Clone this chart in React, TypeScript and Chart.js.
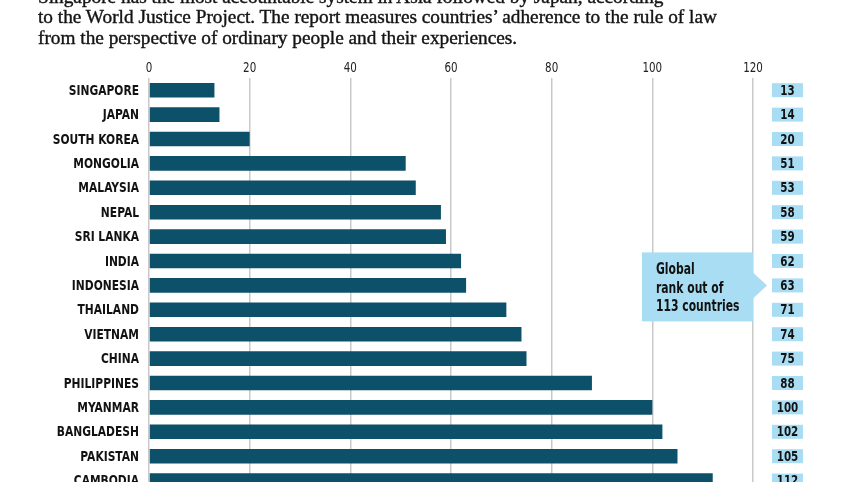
import { useEffect, useRef } from "react";
import { Chart, registerables } from "chart.js";

Chart.register(...registerables);

const headline = [
  "Singapore has the most accountable system in Asia followed by Japan, according",
  "to the World Justice Project. The report measures countries’ adherence to the rule of law",
  "from the perspective of ordinary people and their experiences.",
];

const countries = [
  "SINGAPORE",
  "JAPAN",
  "SOUTH KOREA",
  "MONGOLIA",
  "MALAYSIA",
  "NEPAL",
  "SRI LANKA",
  "INDIA",
  "INDONESIA",
  "THAILAND",
  "VIETNAM",
  "CHINA",
  "PHILIPPINES",
  "MYANMAR",
  "BANGLADESH",
  "PAKISTAN",
  "CAMBODIA",
];

const ranks = [13, 14, 20, 51, 53, 58, 59, 62, 63, 71, 74, 75, 88, 100, 102, 105, 112];

const xMin = 0;
const xMax = 120;
const xStep = 20;

const calloutLines = ["Global", "rank out of", "113 countries"];
const calloutRow = "INDONESIA";

const NARROW = "'Liberation Sans Narrow', 'DejaVu Sans Condensed', 'Arial Narrow', sans-serif";
const BAR = "#0d5069";
const PALE = "#a9ddf3";
const INK = "#121212";

const W = 857;
const H = 500;

// Condensed-looking text: squeeze the glyphs horizontally around the anchor point
function narrowText(
  ctx: CanvasRenderingContext2D,
  text: string,
  x: number,
  y: number,
  align: CanvasTextAlign,
  sx: number
) {
  ctx.save();
  ctx.translate(x, y);
  ctx.scale(sx, 1);
  ctx.textAlign = align;
  ctx.fillText(text, 0, 0);
  ctx.restore();
}

// Axis labels, rank boxes to the right of the plot and the explanatory callout
const annotations = {
  id: "annotations",
  afterDatasetsDraw(chart: any) {
    const { ctx, chartArea, scales } = chart;
    const x = scales.x;
    const y = scales.y;
    ctx.save();

    // value axis labels along the top
    ctx.fillStyle = "#222";
    ctx.font = `14px ${NARROW}`;
    ctx.textBaseline = "alphabetic";
    x.ticks.forEach((t: any) => {
      narrowText(ctx, String(t.value), x.getPixelForValue(t.value), chartArea.top - 6.5, "center", 0.82);
    });

    // country names
    ctx.fillStyle = INK;
    ctx.font = `bold 14px ${NARROW}`;
    ctx.textBaseline = "middle";
    countries.forEach((c, i) => {
      narrowText(ctx, c, chartArea.left - 10, y.getPixelForValue(i) + 1, "right", 0.85);
    });

    // rank boxes
    const bx = chartArea.right + 19;
    const bw = 31;
    const bh = 14;
    ranks.forEach((r, i) => {
      const cy = y.getPixelForValue(i);
      ctx.fillStyle = PALE;
      ctx.fillRect(bx, cy - bh / 2, bw, bh);
      ctx.fillStyle = INK;
      narrowText(ctx, String(r), bx + bw / 2, cy + 1, "center", 0.82);
    });

    // callout pointing at the rank column
    const ay = y.getPixelForValue(countries.indexOf(calloutRow));
    const right = chartArea.right;
    const left = right - 111;
    const top = ay - 33;
    const bottom = ay + 36;
    ctx.fillStyle = PALE;
    ctx.fillRect(left, top, right - left, bottom - top);
    ctx.beginPath();
    ctx.moveTo(right, ay - 13);
    ctx.lineTo(right + 14, ay);
    ctx.lineTo(right, ay + 13);
    ctx.closePath();
    ctx.fill();

    ctx.fillStyle = INK;
    ctx.font = `bold 15px ${NARROW}`;
    ctx.textBaseline = "alphabetic";
    calloutLines.forEach((t, i) => {
      narrowText(ctx, t, left + 14, top + 22 + i * 18.5, "left", 0.8);
    });
    ctx.restore();
  },
};

export default function App() {
  const ref = useRef<HTMLCanvasElement | null>(null);

  useEffect(() => {
    if (!ref.current) return;
    const chart = new Chart(ref.current, {
      type: "bar",
      data: {
        labels: countries,
        datasets: [
          {
            data: ranks,
            backgroundColor: BAR,
            borderWidth: 0,
            barPercentage: 0.6,
            categoryPercentage: 1,
          },
        ],
      },
      options: {
        indexAxis: "y",
        responsive: false,
        animation: false,
        events: [],
        layout: { padding: { left: 0, right: 104, top: 0, bottom: 7.2 } },
        plugins: {
          legend: { display: false },
          tooltip: { enabled: false },
          title: { display: false },
        },
        scales: {
          x: {
            position: "top",
            min: xMin,
            max: xMax,
            ticks: { stepSize: xStep, display: false },
            grid: { color: "#c9c9c9", lineWidth: 1.5, drawTicks: false },
            border: { display: false },
            afterFit(scale: any) {
              scale.height = 78;
            },
          },
          y: {
            ticks: { display: false },
            grid: { display: false, drawTicks: false },
            border: { display: false },
            afterFit(scale: any) {
              scale.width = 149;
            },
          },
        },
      },
      plugins: [annotations],
    } as any);
    return () => chart.destroy();
  }, []);

  return (
    <div
      style={{
        position: "absolute",
        left: 0,
        top: 0,
        width: W,
        height: 482,
        overflow: "hidden",
        background: "#fff",
      }}
    >
      <canvas ref={ref} width={W} height={H} style={{ position: "absolute", left: 0, top: 0 }} />
      <div
        style={{
          position: "absolute",
          left: 38,
          top: -13.3,
          fontFamily: "'Liberation Serif', serif",
          fontSize: 19.3,
          lineHeight: "20.5px",
          color: "#141414",
          WebkitTextStroke: "0.4px #141414",
          whiteSpace: "nowrap",
        }}
      >
        {headline.map((l) => (
          <div key={l}>{l}</div>
        ))}
      </div>
    </div>
  );
}
